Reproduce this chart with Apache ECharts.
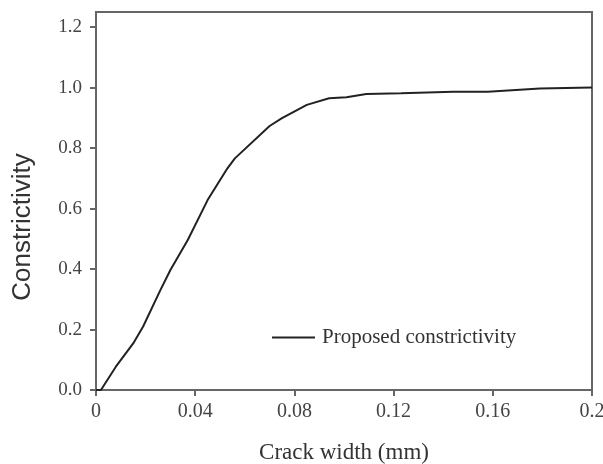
<!DOCTYPE html>
<html>
<head>
<meta charset="utf-8">
<script src="https://cdn.jsdelivr.net/npm/echarts@6/dist/echarts.min.js"></script>
<style>
	html, body { margin: 0; padding: 0; background: #fff; }
	#chart { width: 603px; height: 464px; }
</style>
</head>
<body>
<div id="chart"></div>
<script>
// crack width (mm)
var crackWidth = [0, 0.002, 0.008, 0.015, 0.019, 0.026, 0.030, 0.037, 0.045, 0.053, 0.056, 0.070, 0.075, 0.085, 0.094, 0.101, 0.109, 0.123, 0.144, 0.158, 0.179, 0.2];
// constrictivity
var constrictivity = [0, 0.0, 0.077, 0.154, 0.21, 0.331, 0.397, 0.496, 0.628, 0.733, 0.766, 0.873, 0.899, 0.943, 0.965, 0.968, 0.979, 0.981, 0.986, 0.986, 0.997, 1.0];
var seriesName = 'Proposed constrictivity';

var points = crackWidth.map(function (x, i) { return [x, constrictivity[i]]; });

var serif = 'Liberation Serif';
var axisColor = '#666';

var myChart = echarts.init(document.getElementById('chart'));

myChart.setOption({
	animation: false,
	grid: {
		left: 96,
		right: 11,
		top: 12,
		bottom: 74,
		outerBoundsMode: 'none',
		show: true,
		borderColor: axisColor,
		borderWidth: 2
	},
	legend: {
		left: 272,
		top: 327,
		padding: 0,
		data: [{ name: seriesName, icon: 'rect' }],
		itemWidth: 43,
		itemHeight: 2,
		itemGap: 0,
		itemStyle: { color: '#222' },
		textStyle: {
			fontFamily: serif,
			fontSize: 21,
			color: '#333',
			padding: [0, 0, 0, 2]
		}
	},
	xAxis: {
		type: 'value',
		min: 0,
		max: 0.2,
		interval: 0.04,
		name: 'Crack width (mm)',
		nameLocation: 'middle',
		nameGap: 51,
		nameTextStyle: { fontFamily: serif, fontSize: 23, color: '#333' },
		axisLine: { lineStyle: { color: axisColor, width: 2 } },
		axisTick: { length: 6, lineStyle: { color: axisColor, width: 2 } },
		axisLabel: { fontFamily: serif, fontSize: 20, color: '#444', margin: 12 },
		splitLine: { show: false }
	},
	yAxis: {
		type: 'value',
		min: 0,
		max: 1.25,
		interval: 0.2,
		name: 'Constrictivity',
		nameLocation: 'middle',
		nameGap: 60,
		nameTextStyle: { fontFamily: 'Liberation Sans', fontSize: 26, color: '#333', padding: [0, 52, 0, 0] },
		axisLine: { lineStyle: { color: axisColor, width: 2 } },
		axisTick: { length: 6, lineStyle: { color: axisColor, width: 2 } },
		axisLabel: {
			fontFamily: serif,
			fontSize: 19,
			color: '#444',
			margin: 14,
			showMaxLabel: false,
			formatter: function (v) { return v.toFixed(1); }
		},
		splitLine: { show: false }
	},
	series: [
		{
			name: seriesName,
			type: 'line',
			symbol: 'none',
			lineStyle: { color: '#222', width: 2 },
			itemStyle: { color: '#222' },
			data: points
		}
	]
});
</script>
</body>
</html>
